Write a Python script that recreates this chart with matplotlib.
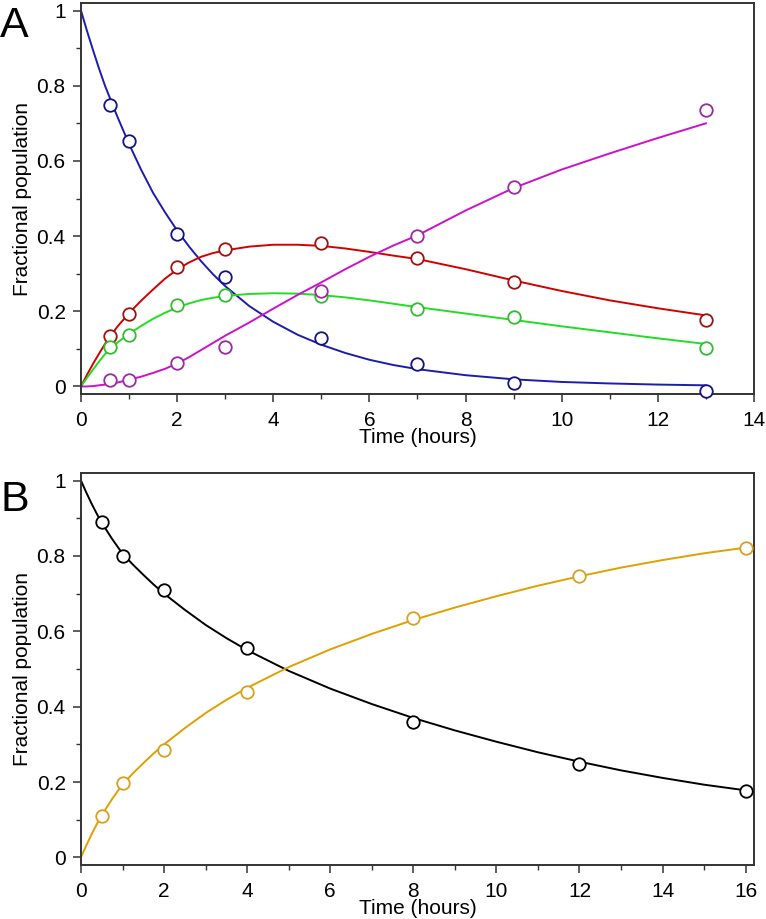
import matplotlib
matplotlib.use("Agg")
import matplotlib.pyplot as plt
from matplotlib.ticker import MultipleLocator, FuncFormatter

plt.rcParams['font.family'] = ['Liberation Sans', 'DejaVu Sans']

# ---- Panel A: measured points ----
t_a = [0.6, 1, 2, 3, 5, 7, 9, 13]
blue_pts = [0.749, 0.653, 0.406, 0.292, 0.128, 0.059, 0.008, -0.011]
red_pts = [0.134, 0.194, 0.318, 0.366, 0.381, 0.341, 0.278, 0.178]
green_pts = [0.104, 0.138, 0.218, 0.242, 0.240, 0.205, 0.186, 0.102]
mag_pts = [0.018, 0.018, 0.063, 0.105, 0.255, 0.400, 0.531, 0.735]

# ---- Panel A: fitted curves ----
t_fit_a = [0, 0.125, 0.25, 0.375, 0.5, 0.75, 1, 1.25, 1.5, 1.75, 2, 2.25,
           2.5, 2.75, 3, 3.5, 4, 4.5, 5, 5.5, 6, 6.5, 7, 8, 9, 10, 11, 12, 13]
blue_fit = [1.0, 0.946, 0.895, 0.846, 0.80, 0.72, 0.645, 0.577, 0.515, 0.463,
            0.415, 0.372, 0.333, 0.298, 0.267, 0.214, 0.172, 0.138, 0.111,
            0.089, 0.071, 0.057, 0.046, 0.030, 0.019, 0.012, 0.008, 0.005,
            0.003]
red_fit = [0.0, 0.031, 0.06, 0.087, 0.113, 0.158, 0.195, 0.228, 0.258, 0.287,
           0.311, 0.33, 0.345, 0.355, 0.362, 0.372, 0.377, 0.377, 0.374,
           0.367, 0.358, 0.348, 0.339, 0.312, 0.282, 0.254, 0.229, 0.208,
           0.189]
green_fit = [0.0, 0.023, 0.045, 0.066, 0.086, 0.116, 0.14, 0.161, 0.18, 0.196,
             0.21, 0.221, 0.23, 0.236, 0.241, 0.246, 0.248, 0.247, 0.243,
             0.237, 0.229, 0.22, 0.211, 0.194, 0.177, 0.16, 0.144, 0.128,
             0.113]
mag_fit = [0.0, 0.0, 0.001, 0.003, 0.005, 0.01, 0.018, 0.026, 0.036, 0.047,
           0.061, 0.078, 0.097, 0.116, 0.135, 0.17, 0.207, 0.243, 0.277,
           0.312, 0.345, 0.375, 0.402, 0.468, 0.528, 0.577, 0.62, 0.661, 0.70]

# ---- Panel B ----
t_b = [0.5, 1, 2, 4, 8, 12, 16]
black_pts = [0.889, 0.799, 0.710, 0.555, 0.360, 0.249, 0.176]
yellow_pts = [0.109, 0.198, 0.286, 0.440, 0.636, 0.747, 0.821]

t_fit_b = [0, 0.125, 0.25, 0.375, 0.5, 0.75, 1, 1.25, 1.5, 1.75, 2, 2.5, 3,
           3.5, 4, 5, 6, 7, 8, 9, 10, 11, 12, 13, 14, 15, 16]
black_fit = [1.0, 0.969, 0.94, 0.913, 0.888, 0.845, 0.806, 0.777, 0.75, 0.724,
             0.70, 0.657, 0.617, 0.582, 0.55, 0.495, 0.448, 0.407, 0.37,
             0.337, 0.307, 0.279, 0.254, 0.231, 0.211, 0.193, 0.178]
yellow_fit = [0.0, 0.031, 0.06, 0.087, 0.112, 0.155, 0.194, 0.223, 0.25,
              0.276, 0.30, 0.343, 0.383, 0.418, 0.45, 0.505, 0.552, 0.593,
              0.63, 0.663, 0.693, 0.721, 0.746, 0.769, 0.789, 0.807, 0.822]

series_a = [
    (blue_fit, blue_pts, '#1c1cb0', '#141480'),
    (red_fit, red_pts, '#d40000', '#a01010'),
    (green_fit, green_pts, '#22dd22', '#33bb33'),
    (mag_fit, mag_pts, '#cc11cc', '#9a2aa0'),
]
series_b = [
    (black_fit, black_pts, '#000000', '#000000'),
    (yellow_fit, yellow_pts, '#e0a000', '#d8a020'),
]


def fmt(v, pos):
    if abs(v) < 1e-9:
        return '0'
    if abs(v - 1) < 1e-9:
        return '1'
    return f'{v:.1f}'


def style_axes(ax, xlim):
    ax.set_xlim(0, xlim)
    ax.set_ylim(-0.02, 1.02)
    ax.xaxis.set_major_locator(MultipleLocator(2))
    ax.xaxis.set_minor_locator(MultipleLocator(1))
    ax.yaxis.set_major_locator(MultipleLocator(0.2))
    ax.yaxis.set_minor_locator(MultipleLocator(0.1))
    ax.yaxis.set_major_formatter(FuncFormatter(fmt))
    ax.tick_params(which='major', direction='out', length=6, width=1.1,
                   labelsize=15, color='#333333')
    ax.tick_params(axis='x', which='major', pad=6)
    ax.tick_params(axis='y', which='major', pad=5)
    ax.tick_params(which='minor', direction='out', length=3.5, width=1.0,
                   color='#333333')
    for s in ax.spines.values():
        s.set_linewidth(1.4)
        s.set_color('#333333')
    ax.set_xlabel('Time (hours)', fontsize=15, labelpad=-1)
    ax.set_ylabel('Fractional population', fontsize=15, labelpad=3)


fig = plt.figure(figsize=(7.66, 9.19), dpi=100)
ax1 = fig.add_axes([0.1057, 0.5713, 0.8786, 0.4254])
ax2 = fig.add_axes([0.1057, 0.0588, 0.8786, 0.4265])

for ax, t_fit, t_pts, series in [(ax1, t_fit_a, t_a, series_a),
                                 (ax2, t_fit_b, t_b, series_b)]:
    for fit, pts, lc, mc in series:
        ax.plot(t_fit, fit, color=lc, lw=1.4, zorder=2)
        ax.plot(t_pts, pts, 'o', ms=9, mfc='white', mec=mc, mew=1.3,
                zorder=3, clip_on=False)

style_axes(ax1, 14)
style_axes(ax2, 16.2)

fig.text(0.0, 0.993, 'A', fontsize=31, va='top', ha='left')
fig.text(0.0, 0.478, 'B', fontsize=31, va='top', ha='left')

fig.savefig('out.png', dpi=100)
